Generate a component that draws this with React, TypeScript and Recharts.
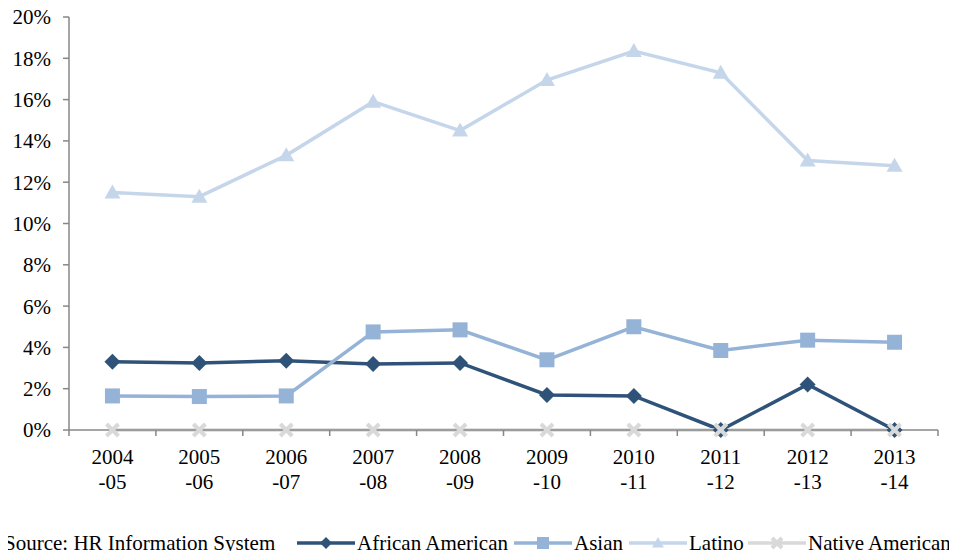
import { LineChart, Line, XAxis, YAxis } from "recharts";

const years = ["2004", "2005", "2006", "2007", "2008", "2009", "2010", "2011", "2012", "2013"];
const spans = ["-05", "-06", "-07", "-08", "-09", "-10", "-11", "-12", "-13", "-14"];
const africanAmerican = [3.3, 3.25, 3.35, 3.2, 3.25, 1.7, 1.65, 0, 2.2, 0];
const asian = [1.65, 1.62, 1.65, 4.75, 4.85, 3.4, 5.0, 3.85, 4.35, 4.25];
const latino = [11.5, 11.3, 13.3, 15.9, 14.5, 16.95, 18.35, 17.3, 13.05, 12.8];
const nativeAmerican = [0, 0, 0, 0, 0, 0, 0, 0, 0, 0];
const yTicks = [0, 2, 4, 6, 8, 10, 12, 14, 16, 18, 20];

const COLORS = {
  african: "#2F5378",
  asian: "#95B3D7",
  latino: "#C6D6EA",
  native: "#D9D9D9",
};
const FONT = '"Liberation Serif", "Times New Roman", serif';
const AXIS = "#878787";

const data = years.map((y, i) => ({
  label: `${y} ${spans[i]}`,
  african: africanAmerican[i],
  asian: asian[i],
  latino: latino[i],
  native: nativeAmerican[i],
}));

const diamond = (color: string, r = 8) => (p: any) => (
  <path
    key={`d-${p.index}`}
    d={`M${p.cx},${p.cy - r} L${p.cx + r},${p.cy} L${p.cx},${p.cy + r} L${p.cx - r},${p.cy} Z`}
    fill={color}
  />
);
const square = (color: string, r = 7.5) => (p: any) => (
  <rect key={`s-${p.index}`} x={p.cx - r} y={p.cy - r} width={r * 2} height={r * 2} fill={color} />
);
const triangle = (color: string, r = 8) => (p: any) => (
  <path
    key={`t-${p.index}`}
    d={`M${p.cx},${p.cy - r} L${p.cx + r},${p.cy + r * 0.75} L${p.cx - r},${p.cy + r * 0.75} Z`}
    fill={color}
  />
);
const cross = (color: string, r = 6) => (p: any) => (
  <path
    key={`x-${p.index}`}
    d={`M${p.cx - r},${p.cy - r} L${p.cx + r},${p.cy + r} M${p.cx + r},${p.cy - r} L${p.cx - r},${p.cy + r}`}
    stroke={color}
    strokeWidth={4}
  />
);

const PLOT_W = 957 - 69 - 19;
const HALF_STEP = PLOT_W / years.length / 2;

const XTick = (props: any) => {
  const { x, y, payload, index } = props;
  const count = years.length;
  const axisY = y - 6;
  const [a, b] = String(payload.value).split(" ");
  return (
    <g>
      <line x1={x - HALF_STEP} x2={x - HALF_STEP} y1={axisY} y2={axisY + 6} stroke={AXIS} strokeWidth={1.5} />
      {index === count - 1 && (
        <line x1={x + HALF_STEP} x2={x + HALF_STEP} y1={axisY} y2={axisY + 6} stroke={AXIS} strokeWidth={1.5} />
      )}
      <text x={x} y={axisY + 34} textAnchor="middle" fontFamily={FONT} fontSize={21} fill="#000">
        {a}
      </text>
      <text x={x} y={axisY + 59} textAnchor="middle" fontFamily={FONT} fontSize={21} fill="#000">
        {b}
      </text>
    </g>
  );
};

const legendItems = [
  { name: "African American", color: COLORS.african, kind: "diamond" },
  { name: "Asian", color: COLORS.asian, kind: "square" },
  { name: "Latino", color: COLORS.latino, kind: "triangle" },
  { name: "Native American", color: COLORS.native, kind: "cross" },
];

// legend drawn inside the svg, below the axis
const BottomLegend = () => {
  const y = 543;
  const textY = y + 7;
  let cursor = 4;
  const parts: any[] = [];
  parts.push(
    <text key="src" x={cursor} y={textY} fontFamily={FONT} fontSize={21} fill="#000">
      Source: HR Information System
    </text>
  );
  const starts = [297, 514, 629, 748];
  legendItems.forEach((it, i) => {
    const x0 = starts[i];
    const p = { cx: x0 + 29, cy: y, index: i };
    let marker;
    if (it.kind === "diamond") marker = diamond(it.color, 6)(p);
    else if (it.kind === "square") marker = square(it.color, 6)(p);
    else if (it.kind === "triangle") marker = triangle(it.color, 6)(p);
    else marker = cross(it.color, 5)(p);
    parts.push(
      <g key={it.name}>
        <line x1={x0} x2={x0 + 58} y1={y} y2={y} stroke={it.color} strokeWidth={3.5} />
        {marker}
        <text x={x0 + 60} y={textY} fontFamily={FONT} fontSize={21} fill="#000">
          {it.name}
        </text>
      </g>
    );
  });
  return <g>{parts}</g>;
};

export default function App() {
  return (
    <div style={{ width: 957, height: 559, margin: -8, background: "#fff" }}>
      <LineChart
        width={957}
        height={559}
        data={data}
        margin={{ top: 17, right: 19, left: 0, bottom: 59 }}
      >
        <XAxis
          dataKey="label"
          height={70}
          interval={0}
          padding={{ left: HALF_STEP, right: HALF_STEP }}
          tickSize={6}
          tickMargin={0}
          tickLine={false}
          axisLine={{ stroke: AXIS, strokeWidth: 1.5 }}
          tick={<XTick />}
        />
        <YAxis
          width={69}
          domain={[0, 20]}
          ticks={yTicks}
          interval={0}
          tickSize={6}
          tickMargin={12}
          tickFormatter={(v: number) => `${v}%`}
          tick={{ fontFamily: FONT, fontSize: 21, fill: "#000" }}
          tickLine={{ stroke: AXIS, strokeWidth: 1.5 }}
          axisLine={{ stroke: AXIS, strokeWidth: 1.5 }}
        />
        <Line
          dataKey="african"
          stroke={COLORS.african}
          strokeWidth={3.5}
          dot={diamond(COLORS.african)}
          isAnimationActive={false}
        />
        <Line
          dataKey="asian"
          stroke={COLORS.asian}
          strokeWidth={3.5}
          dot={square(COLORS.asian)}
          isAnimationActive={false}
        />
        <Line
          dataKey="latino"
          stroke={COLORS.latino}
          strokeWidth={3.5}
          dot={triangle(COLORS.latino)}
          isAnimationActive={false}
        />
        <Line
          dataKey="native"
          stroke={COLORS.native}
          strokeWidth={3.5}
          dot={cross(COLORS.native)}
          isAnimationActive={false}
        />
        <BottomLegend />
      </LineChart>
    </div>
  );
}
